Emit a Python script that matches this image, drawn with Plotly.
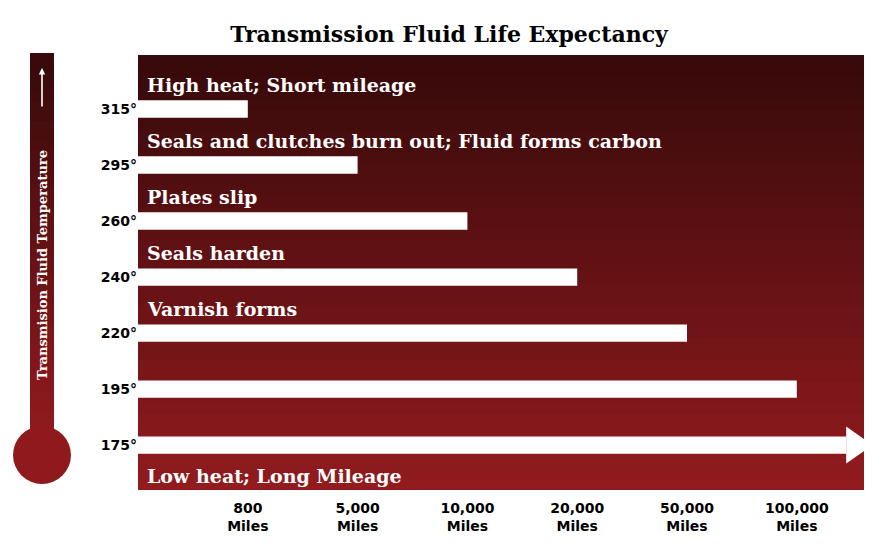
import plotly.graph_objects as go

temps = ['175°', '195°', '220°', '240°', '260°', '295°', '315°']
mileage_pos = [6.45, 6, 5, 4, 3, 2, 1]
labels = ['', '', 'Varnish forms', 'Seals harden', 'Plates slip',
          'Seals and clutches burn out; Fluid forms carbon', 'High heat; Short mileage']
mile_ticks = ['800', '5,000', '10,000', '20,000', '50,000', '100,000']

OFF = 8  # page body margin
W, H = 890 - OFF, 549 - OFF
L, R, T, B = 138 - OFF, 18, 55 - OFF, 59 - OFF
pw, ph = W - L - R, H - T - B

def px(x):
    return (x - OFF - L) / pw

def py(y):
    return (H - B - (y - OFF)) / ph

serif = 'DejaVu Serif'
fig = go.Figure()

ypos = list(range(len(temps)))
fig.add_trace(go.Bar(x=mileage_pos, y=ypos, orientation='h', width=0.31,
                     marker=dict(color='white', line=dict(width=0)), hoverinfo='skip'))

shapes = []
n = 40
top, bot = (0x38, 0x0a, 0x0b), (0x92, 0x1b, 0x1e)
def grad(x0, x1, ya, yb):
    for i in range(n):
        f = i / (n - 1)
        c = tuple(int(top[k] + (bot[k] - top[k]) * f) for k in range(3))
        y0 = ya + (yb - ya) * i / n
        y1 = ya + (yb - ya) * (i + 1) / n + 2
        shapes.append(dict(type='rect', xref='paper', yref='paper', x0=px(x0), x1=px(x1),
                           y0=py(min(y1, yb)), y1=py(y0), fillcolor='rgb(%d,%d,%d)' % c,
                           line=dict(width=0), layer='below'))
grad(138, 864, 55, 490)
grad(30, 54, 53, 440)
shapes.append(dict(type='circle', xref='paper', yref='paper', x0=px(13), x1=px(71),
                   y0=py(484), y1=py(426), fillcolor='#8e1a1d', line=dict(width=0),
                   layer='below'))
tip = mileage_pos[0] + 0.24
shapes.append(dict(type='path', xref='x', yref='y',
                   path=f'M {mileage_pos[0]} -0.33 L {tip} 0 L {mileage_pos[0]} 0.33 Z',
                   fillcolor='white', line=dict(width=0)))

ann = []
for i, t in enumerate(labels):
    if t:
        ann.append(dict(x=0.06, y=i + 0.43, xref='x', yref='y', text='<b>%s</b>' % t,
                        showarrow=False, xanchor='left', yanchor='middle',
                        font=dict(family=serif, size=19, color='white')))
ann.append(dict(x=0.06, y=-0.55, xref='x', yref='y', text='<b>Low heat; Long Mileage</b>',
                showarrow=False, xanchor='left', yanchor='middle',
                font=dict(family=serif, size=19, color='white')))
ann.append(dict(x=px(42), y=py(265), xref='paper', yref='paper', xanchor='center',
                yanchor='middle', text='<b>Transmision Fluid Temperature</b>', textangle=-90,
                showarrow=False, font=dict(family=serif, size=13, color='white')))
ann.append(dict(x=px(42), y=py(68), ax=0, ay=40, xref='paper', yref='paper',
                text='', showarrow=True, arrowhead=2, arrowsize=0.8, arrowwidth=1.6,
                arrowcolor='white'))

fig.update_layout(
    width=W, height=H, margin=dict(l=L, r=R, t=T, b=B),
    paper_bgcolor='white', plot_bgcolor='rgba(0,0,0,0)',
    title=dict(text='<b>Transmission Fluid Life Expectancy</b>', x=0.5, y=0.965,
               xanchor='center', font=dict(family=serif, size=22, color='black')),
    showlegend=False, shapes=shapes, annotations=ann,
    xaxis=dict(range=[0, (872 - 138) / 109.8], tickvals=[1, 2, 3, 4, 5, 6],
               ticktext=['<b>%s<br>Miles</b>' % m for m in mile_ticks],
               showgrid=False, zeroline=False, ticks='', ticklen=0,
               tickfont=dict(family='DejaVu Sans', size=14, color='black')),
    yaxis=dict(range=[-0.945, 6.965], tickvals=ypos, ticktext=['<b>%s</b>' % t for t in temps],
               showgrid=False, zeroline=False, ticks='',
               tickfont=dict(family='DejaVu Sans', size=14, color='black')),
)
fig.write_html('out.html')
